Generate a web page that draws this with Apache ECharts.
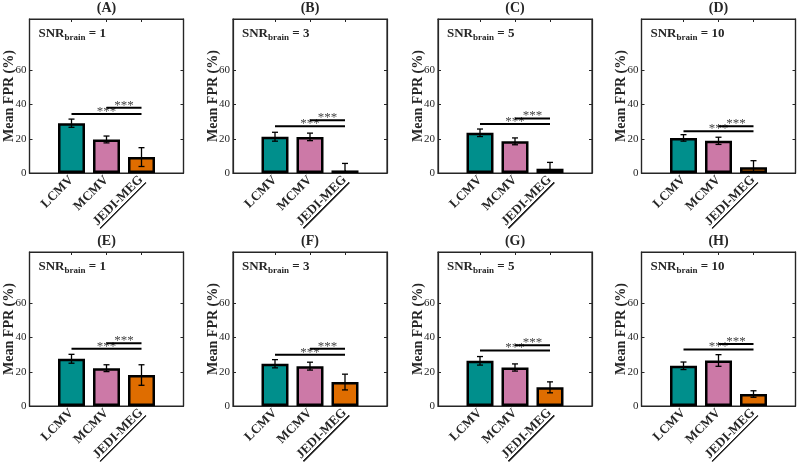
<!DOCTYPE html>
<html>
<head>
<meta charset="utf-8">
<script src="https://cdn.jsdelivr.net/npm/echarts@6/dist/echarts.min.js"></script>
<style>
  html, body { margin: 0; padding: 0; background: #fff; }
  #chart { width: 800px; height: 464px; }
</style>
</head>
<body>
<div id="chart"></div>
<script>
const methods = ['LCMV', 'MCMV', 'JEDI-MEG'];
const panelTitles = ['(A)', '(B)', '(C)', '(D)', '(E)', '(F)', '(G)', '(H)'];
const snrValues = [1, 3, 5, 10, 1, 3, 5, 10];
const meanLCMV = [29.1, 21.2, 23.5, 20.5, 27.6, 24.7, 26.4, 23.5];
const meanMCMV = [19.6, 21.1, 18.5, 18.8, 22.1, 23.3, 22.5, 26.6];
const meanJEDI = [9.3, 1.5, 2.5, 3.3, 18.1, 14.0, 10.9, 7.0];
const errLCMV = [2.4, 2.6, 2.2, 1.9, 2.6, 2.4, 2.5, 2.2];
const errMCMV = [2.0, 2.2, 2.0, 2.1, 2.0, 2.3, 2.1, 3.4];
const errJEDI = [5.5, 4.1, 3.7, 3.9, 6.0, 4.6, 3.2, 1.9];
const sigLow = [34.5, 27.3, 28.6, 24.4, 33.4, 29.9, 32.4, 33.0];   // LCMV vs JEDI-MEG
const sigHigh = [38.2, 30.8, 31.9, 27.3, 36.7, 33.4, 35.5, 36.3];  // MCMV vs JEDI-MEG
const yTicks = [0, 20, 40, 60];

const colors = ['#008F8C', '#CC79A7', '#DF6D00'];
const ink = '#262626';
const serif = '"Liberation Serif", "DejaVu Serif", serif';

const colLeft = [29.5, 233, 438, 641.5];
const rowTop = [19, 252];
const boxW = 154, boxH = 154;

const chart = echarts.init(document.getElementById('chart'), null, { renderer: 'canvas' });

const grids = [], xAxes = [], yAxes = [], series = [], graphics = [];

const underline = {
  type: 'linear', x: 0, y: 0, x2: 0, y2: 1,
  colorStops: [
    { offset: 0, color: 'rgba(0,0,0,0)' },
    { offset: 0.9, color: 'rgba(0,0,0,0)' },
    { offset: 0.9, color: ink },
    { offset: 1, color: ink }
  ]
};

const tickStyle = { show: true, inside: true, length: 3, lineStyle: { color: ink, width: 1 } };

for (let p = 0; p < 8; p++) {
  const left = colLeft[p % 4];
  const top = rowTop[Math.floor(p / 4)];
  grids.push({
    left, top, width: boxW, height: boxH,
    outerBoundsMode: 'none', containLabel: false,
    show: true, borderColor: ink, borderWidth: 1.2
  });

  const xBase = {
    gridIndex: p, type: 'value', min: -0.2, max: 4.2,
    splitLine: { show: false },
    axisLine: { show: true, onZero: false, lineStyle: { color: ink, width: 1.2 } }
  };
  xAxes.push({
    ...xBase, position: 'bottom',
    axisTick: { ...tickStyle, customValues: [1, 2, 3] },
    axisLabel: {
      show: true, customValues: [1, 2, 3], rotate: 45, margin: 5,
      color: ink, fontFamily: serif, fontWeight: 'bold', fontSize: 13,
      formatter: v => v === 3 ? '{u|' + methods[2] + '}' : methods[Math.round(v) - 1],
      rich: {
        u: { fontFamily: serif, fontWeight: 'bold', fontSize: 13, color: ink, backgroundColor: underline, padding: [0, 0, 1, 0] }
      }
    }
  });
  xAxes.push({
    ...xBase, position: 'top',
    axisTick: { ...tickStyle, customValues: [1, 2, 3] },
    axisLabel: { show: false }
  });

  const yBase = {
    gridIndex: p, type: 'value', min: 0, max: 90,
    splitLine: { show: false },
    axisLine: { show: true, onZero: false, lineStyle: { color: ink, width: 1.2 } }
  };
  yAxes.push({
    ...yBase, position: 'left',
    name: 'Mean FPR (%)', nameLocation: 'middle', nameGap: 13, nameMoveOverlap: false,
    nameTextStyle: { color: ink, fontFamily: serif, fontWeight: 'bold', fontSize: 14 },
    axisTick: { ...tickStyle, customValues: yTicks },
    axisLabel: { show: true, customValues: yTicks, margin: 3, color: ink, fontFamily: serif, fontSize: 11 }
  });
  yAxes.push({
    ...yBase, position: 'right',
    axisTick: { ...tickStyle, customValues: yTicks },
    axisLabel: { show: false }
  });

  const means = [meanLCMV[p], meanMCMV[p], meanJEDI[p]];
  const errs = [errLCMV[p], errMCMV[p], errJEDI[p]];

  series.push({
    type: 'bar', xAxisIndex: 2 * p, yAxisIndex: 2 * p,
    barWidth: 27, silent: true,
    data: means.map((m, i) => ({
      value: [i + 1, m],
      itemStyle: { color: colors[i], borderColor: '#000', borderWidth: 2.5 }
    }))
  });

  series.push({
    type: 'custom', xAxisIndex: 2 * p, yAxisIndex: 2 * p, silent: true, z: 5,
    data: means.map((m, i) => [i + 1, m, errs[i]]),
    renderItem: (params, api) => {
      const x = api.value(0), m = api.value(1), e = api.value(2);
      const hi = api.coord([x, m + e]);
      const lo = api.coord([x, Math.max(0, m - e)]);
      const cap = 3;
      const style = { stroke: '#000', lineWidth: 1.3 };
      const children = [
        { type: 'line', shape: { x1: hi[0], y1: hi[1], x2: lo[0], y2: lo[1] }, style },
        { type: 'line', shape: { x1: hi[0] - cap, y1: hi[1], x2: hi[0] + cap, y2: hi[1] }, style }
      ];
      if (m - e >= 0) {
        children.push({ type: 'line', shape: { x1: lo[0] - cap, y1: lo[1], x2: lo[0] + cap, y2: lo[1] }, style });
      }
      return { type: 'group', children };
    }
  });

  series.push({
    type: 'custom', xAxisIndex: 2 * p, yAxisIndex: 2 * p, silent: true, z: 6,
    data: [[1, 3, sigLow[p]], [2, 3, sigHigh[p]]],
    renderItem: (params, api) => {
      const a = api.coord([api.value(0), api.value(2)]);
      const b = api.coord([api.value(1), api.value(2)]);
      return {
        type: 'group',
        children: [
          { type: 'line', shape: { x1: a[0], y1: a[1], x2: b[0], y2: b[1] }, style: { stroke: '#000', lineWidth: 2 } },
          {
            type: 'text', x: (a[0] + b[0]) / 2, y: a[1] + 4,
            style: { text: '***', align: 'center', verticalAlign: 'bottom', fill: '#444', font: '13px ' + serif }
          }
        ]
      };
    }
  });

  graphics.push({
    type: 'text', x: left + boxW / 2, y: top - 11,
    style: { text: panelTitles[p], align: 'center', verticalAlign: 'middle', fill: ink, font: 'bold 14px ' + serif }
  });
  graphics.push({
    type: 'text', x: left + 9, y: top + 15,
    style: {
      text: '{a|SNR}{b|brain}{a| = ' + snrValues[p] + '}',
      align: 'left', verticalAlign: 'middle',
      rich: {
        a: { font: 'bold 13px ' + serif, fill: ink },
        b: { font: 'bold 9px ' + serif, fill: ink, padding: [7, 0, 0, 0] }
      }
    }
  });
}

chart.setOption({
  animation: false,
  backgroundColor: '#fff',
  grid: grids,
  xAxis: xAxes,
  yAxis: yAxes,
  series,
  graphic: graphics
});
</script>
</body>
</html>
